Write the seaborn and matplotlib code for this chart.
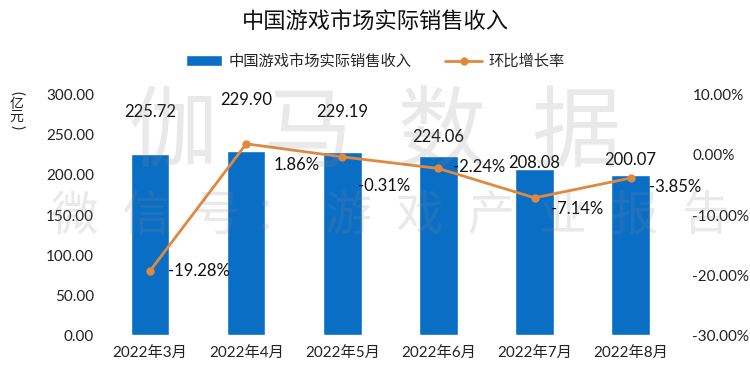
import seaborn as sns
import pandas as pd
import matplotlib.pyplot as plt
from matplotlib.ticker import FuncFormatter

months = ['2022年3月', '2022年4月', '2022年5月', '2022年6月', '2022年7月', '2022年8月']
revenue = [225.72, 229.90, 229.19, 224.06, 208.08, 200.07]
growth = [-19.28, 1.86, -0.31, -2.24, -7.14, -3.85]

# label placement (pixels)
bar_label_dy = [42, 51, 40, 19, 6, 15]
pct_label_off = [(18, 0), (27, -21), (16, -29), (15, 1), (16, -11), (18, -9)]

sns.set_theme(style='white')
plt.rcParams['font.family'] = ['Lato', 'Noto Sans CJK SC', 'DejaVu Sans']

df = pd.DataFrame({'month': months, 'revenue': revenue, 'growth': growth})

blue = '#0B6EC5'
orange = '#E0893E'

fig = plt.figure(figsize=(7.5, 3.86), dpi=100)

# watermark
fig.text(0.5, 0.65, '伽  马  数  据', ha='center', va='center', fontsize=64,
         color='#888888', alpha=0.18, zorder=0)
fig.text(0.52, 0.44, '微  信  号 ：  游  戏  产  业  报  告', ha='center', va='center',
         fontsize=34, color='#888888', alpha=0.18, zorder=0)

ax = fig.add_axes([0.14, 0.132, 0.761, 0.622])
ax.patch.set_alpha(0)
sns.barplot(data=df, x='month', y='revenue', color=blue, width=0.4, saturation=1,
            ax=ax, label='中国游戏市场实际销售收入', zorder=2)
ax.set_ylim(0, 300)
ax.set_yticks(range(0, 301, 50))
ax.yaxis.set_major_formatter(FuncFormatter(lambda v, p: f'{v:.2f}'))
ax.set_xlabel('')
ax.set_ylabel('')
ax.tick_params(axis='both', labelsize=11, colors='#222222', length=0, pad=8)
for s in ax.spines.values():
    s.set_visible(False)

for i, v in enumerate(revenue):
    ax.annotate(f'{v:.2f}', (i, v), xytext=(0, bar_label_dy[i]), textcoords='offset pixels',
                ha='center', va='center', fontsize=12, color='#111111')

ax2 = ax.twinx()
sns.lineplot(data=df, x='month', y='growth', color=orange, marker='o', markersize=6,
             markeredgewidth=0, linewidth=2.0, ax=ax2, label='环比增长率', zorder=3)
ax2.set_ylim(-30, 10)
ax2.set_yticks(range(-30, 11, 10))
ax2.yaxis.set_major_formatter(FuncFormatter(lambda v, p: f'{v:.2f}%'))
ax2.set_ylabel('')
ax2.tick_params(axis='y', labelsize=11, colors='#222222', length=0, pad=12)
for s in ax2.spines.values():
    s.set_visible(False)
ax2.get_legend().remove()

for i, v in enumerate(growth):
    dx, dy = pct_label_off[i]
    ax2.annotate(f'{v:.2f}%', (i, v), xytext=(dx, dy), textcoords='offset pixels',
                 ha='left', va='center', fontsize=12, color='#111111')

# legend
h1, l1 = ax.get_legend_handles_labels()
h2, l2 = ax2.get_legend_handles_labels()
if ax.get_legend():
    ax.get_legend().remove()
fig.legend(h1 + h2, l1 + l2, loc='center', bbox_to_anchor=(0.5, 0.84), ncol=2,
           frameon=False, fontsize=11, handlelength=2.4, columnspacing=2.2, handletextpad=0.4)

fig.text(0.5, 0.945, '中国游戏市场实际销售收入', ha='center', va='center', fontsize=16, color='#111111')

# y unit, written vertically
fig.text(0.022, 0.758, '(', rotation=-90, ha='center', va='center', fontsize=11, color='#222222')
fig.text(0.022, 0.715, '亿\n元', ha='center', va='center', fontsize=10, linespacing=1.0, color='#222222')
fig.text(0.022, 0.672, ')', rotation=-90, ha='center', va='center', fontsize=11, color='#222222')

fig.savefig('out.png', dpi=100)
